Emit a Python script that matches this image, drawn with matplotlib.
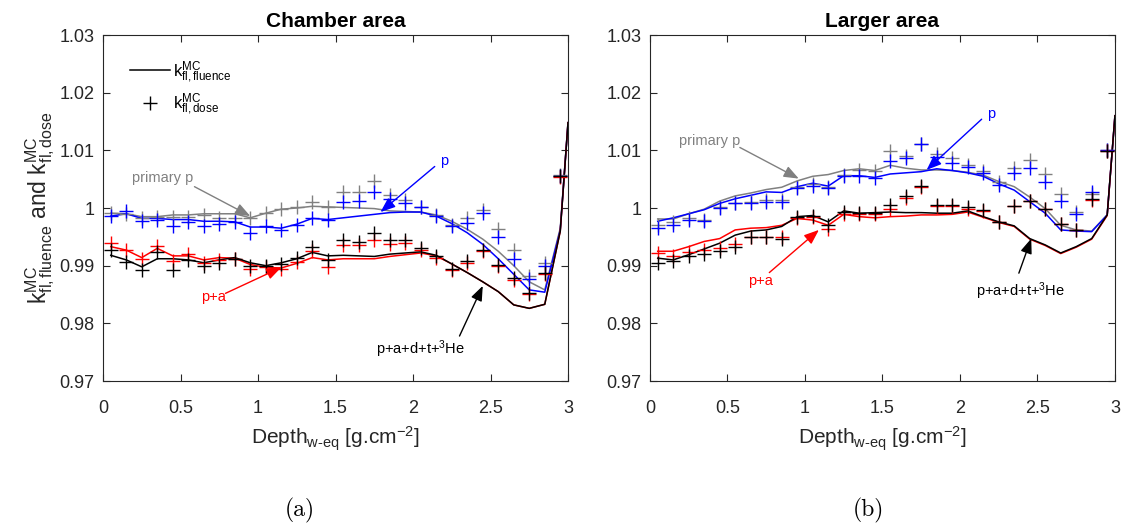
import matplotlib
matplotlib.use("Agg")
import matplotlib.pyplot as plt
from matplotlib.lines import Line2D

plt.rcParams["font.family"] = ["Liberation Sans", "DejaVu Sans"]
plt.rcParams["mathtext.fontset"] = "custom"
plt.rcParams["mathtext.rm"] = "Liberation Sans"
plt.rcParams["mathtext.it"] = "Liberation Sans:italic"
plt.rcParams["mathtext.bf"] = "Liberation Sans:bold"
plt.rcParams["mathtext.default"] = "regular"

# depth of the dose points, the fluence curves have one more point at 3.0
depth = [0.05, 0.15, 0.25, 0.35, 0.45, 0.55, 0.65, 0.75, 0.85, 0.95,
         1.05, 1.15, 1.25, 1.35, 1.45, 1.55, 1.65, 1.75, 1.85, 1.95,
         2.05, 2.15, 2.25, 2.35, 2.45, 2.55, 2.65, 2.75, 2.85, 2.95]
depth_line = depth + [3.0]

# (a) chamber area - fluence curves
ch_prim_line = [0.9991, 0.9990, 0.9985, 0.9985, 0.9988, 0.9988, 0.9990, 0.9990, 0.9990, 0.9983,
                0.9991, 0.9998, 1.0000, 1.0003, 1.0002, 1.0001, 1.0000, 0.9999, 0.9995, 0.9994,
                0.9993, 0.9988, 0.9977, 0.9963, 0.9946, 0.9925, 0.9900, 0.9872, 0.9858, 0.9965, 1.0148]
ch_p_line = [0.9986, 0.9990, 0.9982, 0.9982, 0.9980, 0.9980, 0.9977, 0.9977, 0.9976, 0.9967,
             0.9967, 0.9965, 0.9972, 0.9982, 0.9980, 0.9983, 0.9986, 0.9989, 0.9992, 0.9993,
             0.9993, 0.9986, 0.9973, 0.9957, 0.9937, 0.9912, 0.9885, 0.9858, 0.9854, 0.9962, 1.0148]
ch_pa_line = [0.9933, 0.9927, 0.9914, 0.9930, 0.9917, 0.9917, 0.9910, 0.9914, 0.9913, 0.9902,
              0.9897, 0.9896, 0.9904, 0.9914, 0.9910, 0.9912, 0.9912, 0.9912, 0.9916, 0.9919,
              0.9922, 0.9917, 0.9903, 0.9888, 0.9872, 0.9855, 0.9832, 0.9826, 0.9833, 0.9960, 1.0148]
ch_all_line = [0.9918, 0.9910, 0.9898, 0.9912, 0.9912, 0.9910, 0.9905, 0.9910, 0.9914, 0.9905,
               0.9900, 0.9905, 0.9912, 0.9923, 0.9917, 0.9918, 0.9917, 0.9916, 0.9920, 0.9922,
               0.9924, 0.9918, 0.9903, 0.9888, 0.9872, 0.9855, 0.9832, 0.9826, 0.9833, 0.9960, 1.0148]

# (a) chamber area - dose points
ch_prim_dose = [0.9992, 0.9990, 0.9982, 0.9984, 0.9985, 0.9985, 0.9988, 0.9982, 0.9982, 0.9982,
                0.9992, 0.9998, 1.0002, 1.0010, 1.0002, 1.0028, 1.0027, 1.0047, 1.0023, 1.0014,
                1.0002, 0.9988, 0.9971, 0.9982, 0.9997, 0.9964, 0.9927, 0.9882, 0.9905, 1.0058]
ch_p_dose = [0.9986, 0.9994, 0.9978, 0.9979, 0.9969, 0.9976, 0.9968, 0.9972, 0.9976, 0.9957,
             0.9968, 0.9962, 0.9971, 0.9982, 0.9979, 1.0010, 1.0012, 1.0028, 1.0015, 1.0009,
             1.0001, 0.9986, 0.9969, 0.9974, 0.9991, 0.9950, 0.9912, 0.9877, 0.9900, 1.0056]
ch_pa_dose = [0.9940, 0.9927, 0.9912, 0.9934, 0.9908, 0.9921, 0.9905, 0.9910, 0.9912, 0.9895,
              0.9897, 0.9895, 0.9907, 0.9926, 0.9897, 0.9936, 0.9936, 0.9945, 0.9937, 0.9940,
              0.9927, 0.9913, 0.9893, 0.9905, 0.9925, 0.9900, 0.9876, 0.9851, 0.9886, 1.0054]
ch_all_dose = [0.9927, 0.9907, 0.9892, 0.9924, 0.9893, 0.9910, 0.9900, 0.9905, 0.9912, 0.9900,
               0.9899, 0.9903, 0.9913, 0.9933, 0.9910, 0.9945, 0.9941, 0.9956, 0.9944, 0.9944,
               0.9930, 0.9916, 0.9895, 0.9908, 0.9927, 0.9902, 0.9878, 0.9852, 0.9888, 1.0055]

# (b) larger area - fluence curves
la_prim_line = [0.9981, 0.9981, 0.9990, 0.9998, 1.0012, 1.0021, 1.0026, 1.0032, 1.0036, 1.0047,
                1.0055, 1.0058, 1.0065, 1.0068, 1.0065, 1.0074, 1.0069, 1.0066, 1.0066, 1.0065,
                1.0062, 1.0057, 1.0046, 1.0037, 1.0019, 0.9999, 0.9970, 0.9962, 0.9960, 0.9988, 1.0160]
la_p_line = [0.9977, 0.9983, 0.9990, 0.9997, 1.0008, 1.0016, 1.0022, 1.0028, 1.0027, 1.0037,
             1.0043, 1.0038, 1.0056, 1.0056, 1.0053, 1.0059, 1.0061, 1.0063, 1.0068, 1.0065,
             1.0061, 1.0055, 1.0042, 1.0031, 1.0011, 0.9991, 0.9962, 0.9960, 0.9959, 0.9988, 1.0160]
la_pa_line = [0.9925, 0.9925, 0.9933, 0.9942, 0.9947, 0.9962, 0.9965, 0.9966, 0.9970, 0.9982,
              0.9979, 0.9970, 0.9989, 0.9985, 0.9983, 0.9985, 0.9986, 0.9988, 0.9988, 0.9989,
              0.9993, 0.9984, 0.9975, 0.9968, 0.9946, 0.9935, 0.9921, 0.9932, 0.9946, 0.9987, 1.0160]
la_all_line = [0.9913, 0.9910, 0.9919, 0.9929, 0.9939, 0.9953, 0.9960, 0.9962, 0.9968, 0.9985,
               0.9987, 0.9976, 0.9995, 0.9991, 0.9992, 0.9993, 0.9992, 0.9992, 0.9991, 0.9991,
               0.9995, 0.9985, 0.9976, 0.9969, 0.9947, 0.9936, 0.9922, 0.9933, 0.9947, 0.9988, 1.0160]

# (b) larger area - dose points
la_prim_dose = [0.9970, 0.9976, 0.9982, 0.9980, 1.0002, 1.0009, 1.0010, 1.0014, 1.0014, 1.0037,
                1.0041, 1.0037, 1.0058, 1.0066, 1.0064, 1.0098, 1.0090, 1.0111, 1.0094, 1.0087,
                1.0074, 1.0065, 1.0045, 1.0069, 1.0083, 1.0059, 1.0025, 0.9993, 1.0024, 1.0101]
la_p_dose = [0.9966, 0.9971, 0.9979, 0.9977, 1.0000, 1.0008, 1.0009, 1.0011, 1.0011, 1.0035,
             1.0039, 1.0035, 1.0056, 1.0055, 1.0052, 1.0081, 1.0087, 1.0111, 1.0088, 1.0078,
             1.0071, 1.0061, 1.0040, 1.0060, 1.0069, 1.0045, 1.0013, 0.9989, 1.0028, 1.0100]
la_pa_dose = [0.9922, 0.9916, 0.9923, 0.9928, 0.9931, 0.9938, 0.9950, 0.9950, 0.9950, 0.9982,
              0.9984, 0.9964, 0.9990, 0.9989, 0.9989, 0.9999, 1.0018, 1.0036, 1.0003, 1.0004,
              0.9999, 0.9995, 0.9975, 1.0003, 1.0012, 0.9998, 0.9972, 0.9961, 1.0014, 1.0098]
la_all_dose = [0.9905, 0.9908, 0.9916, 0.9921, 0.9925, 0.9933, 0.9949, 0.9949, 0.9947, 0.9984,
               0.9987, 0.9970, 0.9993, 0.9991, 0.9992, 1.0005, 1.0021, 1.0038, 1.0006, 1.0006,
               1.0001, 0.9996, 0.9976, 1.0004, 1.0013, 0.9999, 0.9973, 0.9962, 1.0016, 1.0099]

grey = (0.5, 0.5, 0.5)
series_colors = [grey, "blue", "red", "black"]
ax_col = (0.15, 0.15, 0.15)

xticks = [0, 0.5, 1, 1.5, 2, 2.5, 3]
xtick_labels = ["0", "0.5", "1", "1.5", "2", "2.5", "3"]
yticks = [0.97, 0.98, 0.99, 1.0, 1.01, 1.02, 1.03]
ytick_labels = ["0.97", "0.98", "0.99", "1", "1.01", "1.02", "1.03"]

fig = plt.figure(figsize=(11.21, 5.28), dpi=100)
ax1 = fig.add_axes([0.0919, 0.2784, 0.4148, 0.6553])
ax2 = fig.add_axes([0.5798, 0.2784, 0.4148, 0.6553])


def draw(ax, title, lines, doses, notes):
    for ys, c in zip(lines, series_colors):
        ax.plot(depth_line, ys, color=c, lw=1.1)
    for ys, c in zip(doses, series_colors):
        ax.plot(depth, ys, "+", color=c, ms=10, mew=1.0)
    for txt, c, pos, tail, tip in notes:
        ax.text(pos[0], pos[1], txt, color=c, fontsize=10.5, ha="center", va="center")
        ax.annotate("", xy=tip, xytext=tail,
                    arrowprops=dict(arrowstyle="-|>,head_length=0.9,head_width=0.35",
                                    color=c, lw=1.0, shrinkA=0, shrinkB=0, mutation_scale=10))
    ax.set_xlim(0, 3)
    ax.set_ylim(0.97, 1.03)
    ax.set_xticks(xticks)
    ax.set_xticklabels(xtick_labels)
    ax.set_yticks(yticks)
    ax.set_yticklabels(ytick_labels)
    ax.tick_params(direction="in", top=True, right=True, length=5, width=0.8,
                   labelsize=13, colors=ax_col, pad=6)
    ax.tick_params(axis="x", pad=14)
    for s in ax.spines.values():
        s.set_color(ax_col)
        s.set_linewidth(0.8)
    ax.set_title(title, fontsize=15, fontweight="bold", pad=6)
    ax.set_xlabel(r"Depth$_{\text{w-eq}}$ [g.cm$^{-2}$]", fontsize=15, color=ax_col, labelpad=5)


ch_notes = [
    ("primary p", grey, (0.385, 1.0052), (0.59, 1.0037), (0.95, 0.9986)),
    ("p", "blue", (2.2, 1.0082), (2.14, 1.0072), (1.79, 0.9993)),
    ("p+a", "red", (0.71, 0.9845), (0.79, 0.9852), (1.15, 0.9897)),
    (r"p+a+d+t+$^{3}$He", "black", (2.05, 0.9755), (2.3, 0.9778), (2.45, 0.9865)),
]
la_notes = [
    ("primary p", grey, (0.385, 1.0117), (0.58, 1.0105), (0.96, 1.0051)),
    ("p", "blue", (2.2, 1.0163), (2.14, 1.0154), (1.785, 1.0066)),
    ("p+a", "red", (0.71, 0.9873), (0.77, 0.9888), (1.09, 0.9962)),
    (r"p+a+d+t+$^{3}$He", "black", (2.39, 0.9856), (2.38, 0.9887), (2.46, 0.9947)),
]

draw(ax1, "Chamber area", [ch_prim_line, ch_p_line, ch_pa_line, ch_all_line],
     [ch_prim_dose, ch_p_dose, ch_pa_dose, ch_all_dose], ch_notes)
draw(ax2, "Larger area", [la_prim_line, la_p_line, la_pa_line, la_all_line],
     [la_prim_dose, la_p_dose, la_pa_dose, la_all_dose], la_notes)

ax1.set_ylabel(r"$k^{MC}_{fl,fluence}$ and $k^{MC}_{fl,dose}$", fontsize=16.5, color=ax_col,
               labelpad=2)

handles = [Line2D([], [], color="black", lw=1.1),
           Line2D([], [], color="black", ls="none", marker="+", ms=10, mew=1.0)]
ax1.legend(handles, [r"$k^{MC}_{fl,fluence}$", r"$k^{MC}_{fl,dose}$"], loc="upper left",
           bbox_to_anchor=(0.025, 0.975), frameon=False, fontsize=12, handlelength=2.4,
           handletextpad=0.2, labelspacing=0.4)

fig.text(300 / 1121, 1 - 510 / 528, "(a)", family="cmr10", fontsize=17, ha="center", va="center")
fig.text(868 / 1121, 1 - 510 / 528, "(b)", family="cmr10", fontsize=17, ha="center", va="center")

fig.savefig("out.png", dpi=100)
